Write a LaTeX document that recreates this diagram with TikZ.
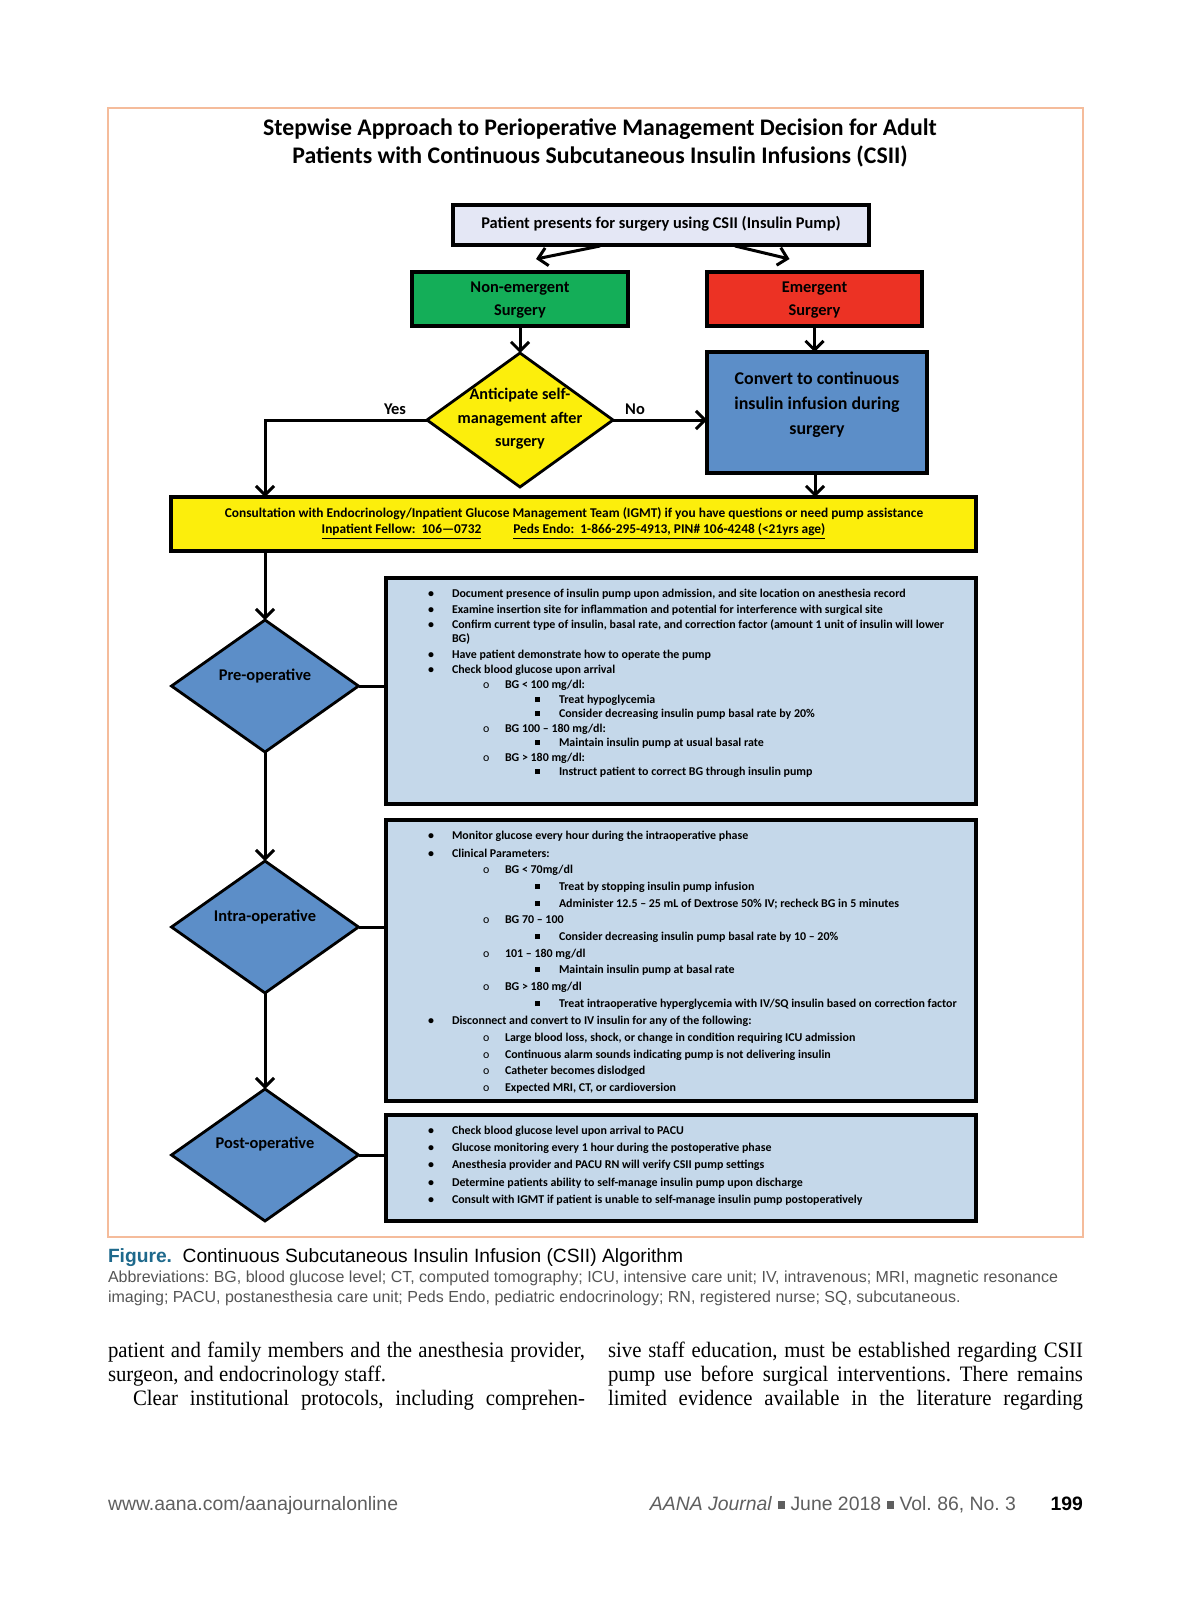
\documentclass[tikz,border=0pt]{standalone}
\usepackage{fontspec}
\setmainfont{Carlito}
\newfontfamily\capfont{Liberation Sans}
\newfontfamily\bodyfont[FakeStretch=0.945]{Liberation Serif}
\usetikzlibrary{shapes.geometric,arrows.meta,calc}
\frenchspacing
\definecolor{framec}{RGB}{245,188,155}
\definecolor{topfill}{RGB}{228,231,245}
\definecolor{grn}{RGB}{20,174,88}
\definecolor{rd}{RGB}{236,50,36}
\definecolor{yel}{RGB}{252,238,12}
\definecolor{blu}{RGB}{92,142,200}
\definecolor{lblu}{RGB}{197,216,234}
\definecolor{teal}{RGB}{30,105,140}
\definecolor{capgray}{RGB}{85,85,85}
\definecolor{footgray}{RGB}{95,95,95}
\newcommand\li[3]{%
  \node[btxt] (li#2) at (428,#2+4) {\ifcase#1 \makebox[12pt][l]{•}#3\or
    \hspace*{27.5pt}\makebox[11pt][l]{\fontseries{m}\selectfont o}#3\or
    \hspace*{53.5pt}\makebox[12pt][l]{\rule[0.5pt]{2.4pt}{2.4pt}}#3\or
    \hspace*{12pt}#3\fi};}
\begin{document}
\begin{tikzpicture}[x=0.5pt,y=-0.5pt,
  every node/.style={inner sep=0pt, outer sep=0pt},
  ln/.style={line width=1.5pt, draw=black},
  arr/.style={ln, -{Straight Barb[length=4.5pt,width=9pt]}},
  bx/.style={rectangle, draw=black, line width=1.6pt},
  dm/.style={diamond, draw=black, line width=1.4pt},
  btxt/.style={font=\bfseries\fontsize{5.97}{7}\selectfont, anchor=base west},
  lbl/.style={font=\bfseries\fontsize{8.2}{11.5}\selectfont, align=center},
]
\fill[white] (0,0) rectangle (1200,1606);
\useasboundingbox (0,0) rectangle (1200,1606);
\draw[framec, line width=0.6pt] (108,108) rectangle (1083,1237);

% title
\node[font=\bfseries\fontsize{11.9}{14}\selectfont, anchor=base] (t1) at (600,135) {Stepwise Approach to Perioperative Management Decision for Adult};
\node[font=\bfseries\fontsize{11.9}{14}\selectfont, anchor=base] (t2) at (600,163) {Patients with Continuous Subcutaneous Insulin Infusions (CSII)};

% shapes
\node[bx, fill=topfill, minimum width=208pt, minimum height=20pt] (top) at (661,225) {};
\node[lbl] (topt) at (661,224) {Patient presents for surgery using CSII (Insulin Pump)};
\node[bx, fill=grn, minimum width=108pt, minimum height=27pt] (green) at (520,299) {};
\node[lbl] (greent) at (520,300) {Non-emergent\\Surgery};
\node[bx, fill=rd, minimum width=107.5pt, minimum height=27pt] (red) at (814.5,299) {};
\node[lbl] (redt) at (814.5,300) {Emergent\\Surgery};
\node[dm, fill=yel, minimum width=93pt, minimum height=67pt] (ant) at (520,420) {};
\node[lbl, font=\bfseries\fontsize{8.1}{11.8}\selectfont] (antt) at (520,419) {Anticipate self-\\management after\\surgery};
\node[bx, fill=blu, minimum width=110pt, minimum height=60.5pt] (conv) at (817,412.5) {};
\node[lbl, font=\bfseries\fontsize{8.95}{12.5}\selectfont] (convt) at (817,405) {Convert to continuous\\insulin infusion during\\surgery};
\node[bx, fill=yel, minimum width=402.5pt, minimum height=27pt] (cons) at (573.5,524) {};
\node[font=\bfseries\fontsize{6.7}{8}\selectfont, anchor=base] (cons1) at (574,517) {Consultation with Endocrinology/Inpatient Glucose Management Team (IGMT) if you have questions or need pump assistance};
\node[font=\bfseries\fontsize{6.7}{8}\selectfont, anchor=base] (cons2) at (573.5,533) {\underline{Inpatient Fellow:\ \ 106---0732}\hspace{16pt}\underline{Peds Endo:\ \ 1-866-295-4913, PIN\# 106-4248 (<21yrs age)}};

\node[dm, fill=blu, minimum width=93.5pt, minimum height=66pt] (pre) at (265,686) {};
\node[lbl] (pret) at (265,676) {Pre-operative};
\node[dm, fill=blu, minimum width=93.5pt, minimum height=66pt] (intra) at (265,927) {};
\node[lbl] (intrat) at (265,917) {Intra-operative};
\node[dm, fill=blu, minimum width=93.5pt, minimum height=66pt] (post) at (265,1155) {};
\node[lbl] (postt) at (265,1144) {Post-operative};

\node[bx, fill=lblu, minimum width=295pt, minimum height=113pt] (prebox) at (681,691) {};
\node[bx, fill=lblu, minimum width=295pt, minimum height=140.5pt] (intrabox) at (681,960.5) {};
\node[bx, fill=lblu, minimum width=295pt, minimum height=53pt] (postbox) at (681,1168) {};

% connectors
\draw[arr] ($(top.south)+(-61,1)$) -- ($(green.north)+(16,-13)$);
\draw[arr] ($(top.south)+(74,1)$) -- ($(red.north)+(-25,-13)$);
\draw[arr] (green.south) -- (ant.north);
\draw[arr] (red.south) -- (red.south |- conv.north);
\draw[arr] (ant.east) -- (ant.east -| conv.west);
\coordinate (yc) at (265,420);
\draw[arr] (ant.west) -- (yc) -- (yc |- cons.north);
\draw[arr] (conv.south -| 815,0) -- (815,497);
\draw[arr] (cons.south -| pre.north) -- (pre.north);
\draw[arr] (pre.south) -- (intra.north);
\draw[arr] (intra.south) -- (post.north);
\draw[ln] (pre.east) -- (pre.east -| prebox.west);
\draw[ln] (intra.east) -- (intra.east -| intrabox.west);
\draw[ln] (post.east) -- (post.east -| postbox.west);
\node[lbl] (yes) at (395,409) {Yes};
\node[lbl] (no) at (635,409) {No};

% pre box text
\li{0}{593}{Document presence of insulin pump upon admission, and site location on anesthesia record}
\li{0}{609}{Examine insertion site for inflammation and potential for interference with surgical site}
\li{0}{624}{Confirm current type of insulin, basal rate, and correction factor (amount 1 unit of insulin will lower}
\li{3}{638}{BG)}
\li{0}{654}{Have patient demonstrate how to operate the pump}
\li{0}{669}{Check blood glucose upon arrival}
\li{1}{684}{BG < 100 mg/dl:}
\li{2}{699}{Treat hypoglycemia}
\li{2}{713}{Consider decreasing insulin pump basal rate by 20\%}
\li{1}{728}{BG 100 – 180 mg/dl:}
\li{2}{742}{Maintain insulin pump at usual basal rate}
\li{1}{757}{BG > 180 mg/dl:}
\li{2}{771}{Instruct patient to correct BG through insulin pump}
% intra box text
\li{0}{835}{Monitor glucose every hour during the intraoperative phase}
\li{0}{853}{Clinical Parameters:}
\li{1}{869}{BG < 70mg/dl}
\li{2}{886}{Treat by stopping insulin pump infusion}
\li{2}{903}{Administer 12.5 – 25 mL of Dextrose 50\% IV; recheck BG in 5 minutes}
\li{1}{919}{BG 70 – 100}
\li{2}{936}{Consider decreasing insulin pump basal rate by 10 – 20\%}
\li{1}{953}{101 – 180 mg/dl}
\li{2}{969}{Maintain insulin pump at basal rate}
\li{1}{986}{BG > 180 mg/dl}
\li{2}{1003}{Treat intraoperative hyperglycemia with IV/SQ insulin based on correction factor}
\li{0}{1020}{Disconnect and convert to IV insulin for any of the following:}
\li{1}{1037}{Large blood loss, shock, or change in condition requiring ICU admission}
\li{1}{1054}{Continuous alarm sounds indicating pump is not delivering insulin}
\li{1}{1070}{Catheter becomes dislodged}
\li{1}{1087}{Expected MRI, CT, or cardioversion}
% post box text
\li{0}{1130}{Check blood glucose level upon arrival to PACU}
\li{0}{1147}{Glucose monitoring every 1 hour during the postoperative phase}
\li{0}{1164}{Anesthesia provider and PACU RN will verify CSII pump settings}
\li{0}{1182}{Determine patients ability to self-manage insulin pump upon discharge}
\li{0}{1199}{Consult with IGMT if patient is unable to self-manage insulin pump postoperatively}

% caption
\node[anchor=base west, font=\capfont\fontsize{9.6}{11}\selectfont] (cap) at (108,1262) {\textcolor{teal}{\bfseries Figure.}\ \ Continuous Subcutaneous Insulin Infusion (CSII) Algorithm};
\node[anchor=base west, font=\capfont\fontsize{8}{10}\selectfont, text=capgray] (ab1) at (108,1282) {Abbreviations: BG, blood glucose level; CT, computed tomography; ICU, intensive care unit; IV, intravenous; MRI, magnetic resonance};
\node[anchor=base west, font=\capfont\fontsize{8}{10}\selectfont, text=capgray] (ab2) at (108,1302) {imaging; PACU, postanesthesia care unit; Peds Endo, pediatric endocrinology; RN, registered nurse; SQ, subcutaneous.};

% body text
\node[anchor=base west, font=\bodyfont\fontsize{11}{12}\selectfont] (b1) at (108,1357) {\makebox[238.5pt][s]{patient and family members and the anesthesia provider,}};
\node[anchor=base west, font=\bodyfont\fontsize{11}{12}\selectfont] (b2) at (108,1381) {surgeon, and endocrinology staff.};
\node[anchor=base west, font=\bodyfont\fontsize{11}{12}\selectfont] (b3) at (133,1405) {\makebox[226pt][s]{Clear institutional protocols, including comprehen-}};
\node[anchor=base west, font=\bodyfont\fontsize{11}{12}\selectfont] (b4) at (608,1357) {\makebox[237.5pt][s]{sive staff education, must be established regarding CSII}};
\node[anchor=base west, font=\bodyfont\fontsize{11}{12}\selectfont] (b5) at (608,1381) {\makebox[237.5pt][s]{pump use before surgical interventions. There remains}};
\node[anchor=base west, font=\bodyfont\fontsize{11}{12}\selectfont] (b6) at (608,1405) {\makebox[237.5pt][s]{limited evidence available in the literature regarding}};

% footer
\node[anchor=base west, font=\capfont\fontsize{9.7}{11}\selectfont, text=footgray] (f1) at (108,1510) {www.aana.com/aanajournalonline};
\node[anchor=base east, font=\capfont\bfseries\fontsize{9.7}{11}\selectfont] (f3) at (1083,1510) {199};
\node[anchor=base east, font=\capfont\fontsize{9.7}{11}\selectfont, text=footgray] (f2) at (1016,1510) {\textit{AANA Journal}\ \raisebox{0.6pt}{\rule{3.8pt}{3.8pt}}\ June 2018\ \raisebox{0.6pt}{\rule{3.8pt}{3.8pt}}\ Vol. 86, No. 3};
\end{tikzpicture}
\end{document}
